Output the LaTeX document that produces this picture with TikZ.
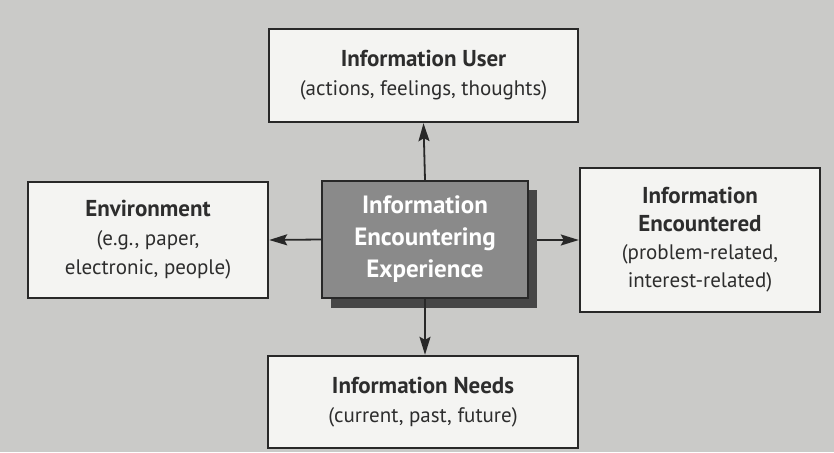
\documentclass[tikz,border=0pt]{standalone}
\usepackage{fontspec}
\setmainfont{PT Sans}
\usetikzlibrary{arrows.meta}
\newcommand{\ttl}[1]{{\fontsize{23}{30}\selectfont\bfseries #1}}
\begin{document}
\begin{tikzpicture}[x=1pt,y=-1pt,
  box/.style={draw=boxline, line width=2.4pt, fill=boxfill, inner sep=0pt, align=center, font=\fontsize{21}{29}\selectfont, text=txt},
  arr/.style={draw=boxline, line width=1.8pt, -{Stealth[length=18pt,width=11pt,inset=3pt]}}]
\definecolor{bg}{RGB}{202,202,200}
\definecolor{boxfill}{RGB}{244,244,242}
\definecolor{boxline}{RGB}{40,40,40}
\definecolor{txt}{RGB}{45,45,45}
\definecolor{midfill}{RGB}{138,138,138}
\definecolor{shadow}{RGB}{70,70,70}
\fill[bg] (0,0) rectangle (834,452);
\useasboundingbox (0,0) rectangle (834,452);
% center shadow
\fill[shadow] (331,190) rectangle (537,308);
\node[box, fill=midfill, minimum width=206pt, minimum height=117pt, text=white, font=\fontsize{25}{32}\selectfont\bfseries] (c) at (425,239.5) {Information\\Encountering\\Experience};
\node[box, minimum width=309pt, minimum height=93pt] (u) at (423.5,75.5) {\ttl{Information User}\\(actions, feelings, thoughts)};
\node[box, minimum width=240pt, minimum height=116pt] (e) at (148,240) {\ttl{Environment}\\(e.g., paper,\\electronic, people)};
\node[box, minimum width=240pt, minimum height=144pt, font=\fontsize{21}{28}\selectfont] (i) at (700,240) {\ttl{Information}\\\ttl{Encountered}\\(problem-related,\\interest-related)};
\node[box, minimum width=310pt, minimum height=92pt] (n) at (423,402) {\ttl{Information Needs}\\(current, past, future)};
\draw[arr] (c.north) -- (u.south);
\draw[arr] (c.south) -- (c.south |- n.north);
\draw[arr] (c.west) -- (e.east);
\coordinate (cr) at (537,240);
\draw[arr] (cr) -- (i.west);
\end{tikzpicture}
\end{document}
